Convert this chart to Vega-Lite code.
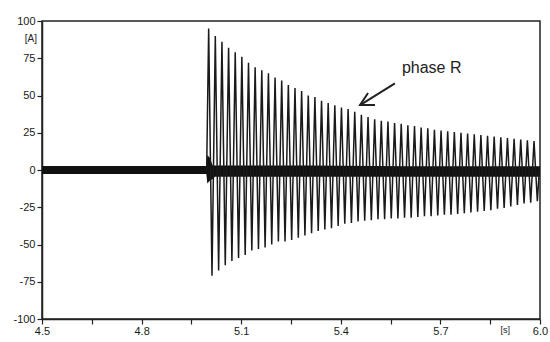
{
 "$schema": "https://vega.github.io/schema/vega-lite/v6.json",
 "width": 498, "height": 298,
 "autosize": {"type": "none"},
 "padding": {"left": 42, "top": 21, "right": 10, "bottom": 23},
 "background": "white",
 "config": {
  "view": {"stroke": "#222", "strokeWidth": 1.5},
  "axis": {"labelFont": "Liberation Sans", "labelFontSize": 11, "labelColor": "#1a1a1a", "tickColor": "#222", "domainColor": "#222", "domainWidth": 1.5, "tickWidth": 1.2, "grid": false, "tickSize": 5}
 },
 "datasets": {
  "band": [
   {"t":4.5,"v":-2.7,"v2":2.7},{"t":4.7,"v":-2.7,"v2":2.7},{"t":4.9,"v":-2.7,"v2":2.7},{"t":4.995,"v":-2.7,"v2":2.7},
   {"t":4.998,"v":-9,"v2":10},{"t":5.006,"v":-7,"v2":8},{"t":5.014,"v":-6,"v2":3},{"t":5.02,"v":-4.5,"v2":3},
   {"t":5.3,"v":-4.5,"v2":3},{"t":5.6,"v":-4.5,"v2":2.5},{"t":6.0,"v":-4.5,"v2":2.5}
  ],
  "phaseR": [
   {"t":4.996,"v":0},
   {"t":5.002,"v":95},{"t":5.012,"v":-71},{"t":5.022,"v":90},{"t":5.032,"v":-67.5},{"t":5.042,"v":86},{"t":5.052,"v":-64},
   {"t":5.062,"v":82},{"t":5.072,"v":-61},{"t":5.082,"v":79},{"t":5.092,"v":-59},{"t":5.102,"v":76},{"t":5.112,"v":-57},
   {"t":5.122,"v":72},{"t":5.132,"v":-54},{"t":5.142,"v":69},{"t":5.152,"v":-53},{"t":5.162,"v":67},{"t":5.172,"v":-52},
   {"t":5.182,"v":65},{"t":5.192,"v":-50},{"t":5.202,"v":62},{"t":5.212,"v":-48},{"t":5.222,"v":60},{"t":5.232,"v":-48},
   {"t":5.242,"v":57},{"t":5.252,"v":-47},{"t":5.262,"v":55},{"t":5.272,"v":-45.5},{"t":5.282,"v":53},{"t":5.292,"v":-44},
   {"t":5.302,"v":50},{"t":5.312,"v":-42.5},{"t":5.322,"v":49},{"t":5.332,"v":-41},{"t":5.342,"v":46.5},{"t":5.352,"v":-40},
   {"t":5.362,"v":45},{"t":5.372,"v":-39},{"t":5.382,"v":43.5},{"t":5.392,"v":-37.5},{"t":5.402,"v":42},{"t":5.412,"v":-36},
   {"t":5.422,"v":41},{"t":5.432,"v":-35.5},{"t":5.442,"v":39},{"t":5.452,"v":-34.5},{"t":5.462,"v":37},{"t":5.472,"v":-34},
   {"t":5.482,"v":35.5},{"t":5.492,"v":-33.7},{"t":5.502,"v":34},{"t":5.512,"v":-33},{"t":5.522,"v":33},{"t":5.532,"v":-33},
   {"t":5.542,"v":32.5},{"t":5.552,"v":-32.5},{"t":5.562,"v":31.5},{"t":5.572,"v":-32.5},{"t":5.582,"v":31},{"t":5.592,"v":-32},
   {"t":5.602,"v":30},{"t":5.612,"v":-32},{"t":5.622,"v":29.5},{"t":5.632,"v":-31.5},{"t":5.642,"v":28.5},{"t":5.652,"v":-31},
   {"t":5.662,"v":28},{"t":5.672,"v":-31},{"t":5.682,"v":27},{"t":5.692,"v":-30.5},{"t":5.702,"v":26.5},{"t":5.712,"v":-30},
   {"t":5.722,"v":26},{"t":5.732,"v":-30},{"t":5.742,"v":25.5},{"t":5.752,"v":-29.5},{"t":5.762,"v":25},{"t":5.772,"v":-29},
   {"t":5.782,"v":24.5},{"t":5.792,"v":-28.5},{"t":5.802,"v":24},{"t":5.812,"v":-28},{"t":5.822,"v":23.5},{"t":5.832,"v":-27.5},
   {"t":5.842,"v":23},{"t":5.852,"v":-27},{"t":5.862,"v":22.5},{"t":5.872,"v":-26},{"t":5.882,"v":22},{"t":5.892,"v":-25.5},
   {"t":5.902,"v":21.5},{"t":5.912,"v":-24.5},{"t":5.922,"v":21},{"t":5.932,"v":-23.5},{"t":5.942,"v":20.5},{"t":5.952,"v":-22.5},
   {"t":5.962,"v":20},{"t":5.972,"v":-22},{"t":5.982,"v":19.5},{"t":5.992,"v":-21},{"t":5.998,"v":0}
  ],
  "shaft": [{"t":5.563,"v":58.2,"t2":5.458,"v2":43.6}],
  "head": [{"t":5.503,"v":43.6,"o":1},{"t":5.458,"v":43.6,"o":2},{"t":5.482,"v":51.7,"o":3}],
  "label": [{"t":5.584,"v":65,"txt":"phase R"}],
  "unitY": [{"t":4.5,"v":88,"txt":"[A]"}],
  "unitX": [{"t":5.895,"v":-100,"txt":"[s]"}]
 },
 "encoding": {
  "x": {"field":"t","type":"quantitative","scale":{"domain":[4.5,6.0],"nice":false,"zero":false},
        "axis":{"title":null,"values":[4.5,4.65,4.8,4.95,5.1,5.25,5.4,5.55,5.7,5.85,6.0],
                "labelExpr":"abs(datum.value*10 - round(datum.value*10)) < 0.01 && round(datum.value*10) % 3 == 0 ? format(datum.value, '.1f') : ''",
                "labelPadding":1,"labelFlush":false}},
  "y": {"field":"v","type":"quantitative","scale":{"domain":[-100,100],"nice":false},
        "axis":{"title":null,"values":[-100,-75,-50,-25,0,25,50,75,100],"labelPadding":2,
                "labelExpr":"datum.value < 0 ? '-' + abs(datum.value) : '' + datum.value"}}
 },
 "layer": [
  {"data":{"name":"band"},"mark":{"type":"area","color":"#111","opacity":1},"encoding":{"y2":{"field":"v2"}}},
  {"data":{"name":"phaseR"},"mark":{"type":"line","color":"#1a1a1a","strokeWidth":1.5}},
  {"data":{"name":"shaft"},"mark":{"type":"rule","color":"#222","strokeWidth":2},"encoding":{"x2":{"field":"t2"},"y2":{"field":"v2"}}},
  {"data":{"name":"head"},"mark":{"type":"line","color":"#222","strokeWidth":2},"encoding":{"order":{"field":"o"}}},
  {"data":{"name":"label"},"mark":{"type":"text","align":"left","baseline":"alphabetic","font":"Liberation Sans","fontSize":16,"color":"#222"},"encoding":{"text":{"field":"txt"}}},
  {"data":{"name":"unitY"},"mark":{"type":"text","align":"right","baseline":"middle","dx":-5,"font":"Liberation Sans","fontSize":10,"color":"#222"},"encoding":{"text":{"field":"txt"}}},
  {"data":{"name":"unitX"},"mark":{"type":"text","align":"center","baseline":"top","dy":7,"font":"Liberation Sans","fontSize":9,"color":"#222"},"encoding":{"text":{"field":"txt"}}}
 ]
}
